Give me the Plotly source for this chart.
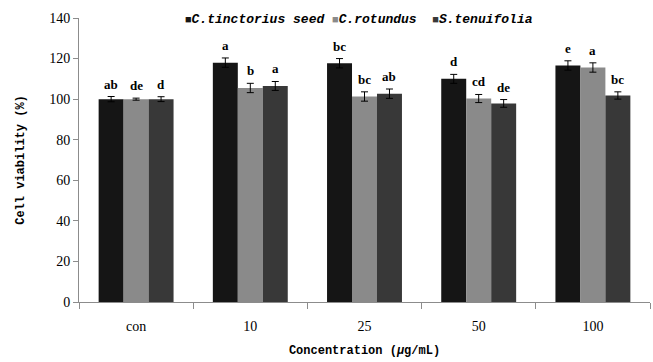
import plotly.graph_objects as go

categories = ["con", "10", "25", "50", "100"]
series_names = ["C.tinctorius seed", "C.rotundus", "S.tenuifolia"]
colors = ["#151515", "#8a8a8a", "#383838"]

tinctorius = [100.0, 118.0, 117.7, 110.0, 116.6]
rotundus = [100.0, 105.5, 101.3, 100.3, 115.6]
tenuifolia = [100.0, 106.5, 102.7, 97.9, 101.8]

tinctorius_err = [1.3, 2.3, 2.3, 2.2, 2.3]
rotundus_err = [0.5, 2.3, 2.3, 2.0, 2.3]
tenuifolia_err = [1.2, 2.2, 2.3, 1.9, 1.8]

tinctorius_letters = ["ab", "a", "bc", "d", "e"]
rotundus_letters = ["de", "b", "bc", "cd", "a"]
tenuifolia_letters = ["d", "a", "ab", "de", "bc"]

values = [tinctorius, rotundus, tenuifolia]
errors = [tinctorius_err, rotundus_err, tenuifolia_err]
letters = [tinctorius_letters, rotundus_letters, tenuifolia_letters]

L, R, T, B = 79, 3, 18, 60
W, H = 653, 362
pw, ph = W - L - R, H - T - B

bargap = 0.344
fig = go.Figure()
for name, col, v, e in zip(series_names, colors, values, errors):
    fig.add_trace(go.Bar(
        name=name, x=categories, y=v, marker_color=col, marker_line_width=0,
        error_y=dict(type="data", array=e, visible=True, color="black", thickness=1, width=3.5),
        showlegend=False,
    ))

bw = (1 - bargap) / 3
annotations = []
for j in range(3):
    for i in range(len(categories)):
        annotations.append(dict(
            x=i + (j - 1) * bw, y=values[j][i] + errors[j][i], xref="x", yref="y",
            text=letters[j][i], showarrow=False, yanchor="bottom", yshift=3,
            font=dict(family="Liberation Serif", size=13, color="black", weight="bold"),
        ))

legend_text = " ".join(
    f'<span style="color:{c};font-size:11px">■</span><i>{n}</i>' + (" " if k == 1 else "")
    for k, (n, c) in enumerate(zip(series_names, colors))
)
annotations.append(dict(
    x=(359 - L) / pw, y=1 - (19 - T) / ph, xref="paper", yref="paper",
    text=legend_text, showarrow=False, xanchor="center", yanchor="middle",
    font=dict(family="Liberation Mono", size=13, color="black", weight="bold"),
))

fig.update_layout(
    width=W, height=H, margin=dict(l=L, r=R, t=T, b=B, autoexpand=False),
    barmode="group", bargap=bargap, bargroupgap=0,
    plot_bgcolor="white", paper_bgcolor="white",
    annotations=annotations,
    xaxis=dict(
        automargin=False,
        showline=True, linecolor="#8c8c8c", linewidth=1, ticks="outside", ticklen=6,
        tickcolor="#8c8c8c", tickson="boundaries", showgrid=False,
        tickfont=dict(family="Liberation Serif", size=14, color="black"),
        ticklabelstandoff=11,
        title=dict(text="Concentration (<i>μ</i>g/mL)", standoff=12,
                   font=dict(family="Liberation Mono", size=12, color="black", weight="bold")),
    ),
    yaxis=dict(
        automargin=False,
        range=[0, 140], dtick=20, showline=True, linecolor="#8c8c8c", linewidth=1,
        ticks="outside", ticklen=5, tickcolor="#8c8c8c", showgrid=False, zeroline=False,
        tickfont=dict(family="Liberation Serif", size=14, color="black"),
        title=dict(text="Cell viability (%)", standoff=22,
                   font=dict(family="Liberation Mono", size=12, color="black", weight="bold")),
    ),
)
fig.write_html(
    "out.html",
    config={"responsive": False, "displayModeBar": False},
    post_script="document.body.style.margin='0';document.body.style.overflow='hidden';",
)
